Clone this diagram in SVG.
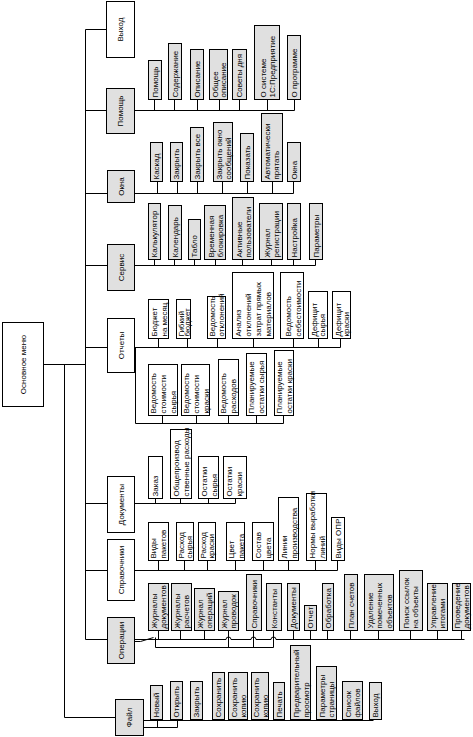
<svg xmlns="http://www.w3.org/2000/svg" width="473" height="737" viewBox="0 0 473 737">
<style>
.b{stroke:#000;stroke-width:1;fill:#fff}
.g{fill:#e0e0e0}
.t{font-family:"Liberation Sans",Arial,sans-serif;font-size:8px;fill:#000;dominant-baseline:central}
.m{text-anchor:middle}
.c{fill:none;stroke:#000;stroke-width:1}
</style>
<rect width="473" height="737" fill="#fff"/>
<g transform="translate(0.5,0.5)">
<g id="connectors" class="c">
<path d="M43,364H85M64,364V717H115M85,29V639M85,29H106M85,110H106M85,193H107M85,265H107M85,347H107M85,503H107M85,570H107M85,639H107"/>
<path d="M134,110H294M154,99V110M174,99V110M197,99V110M219,99V110M239,99V110M267,99V110M294,99V110"/>
<path d="M134,193H293M157,181V193M177,181V193M197,181V193M222,181V193M247,181V193M272,181V193M293,181V193"/>
<path d="M134,265H315M154,259V265M174,259V265M194,259V265M215,259V265M242,259V265M271,259V265M293,259V265M315,259V265"/>
<path d="M134,347H340M158,338V347M187,338V347M217,338V347M253,338V347M293,338V347M318,338V347M340,338V347"/>
<path d="M135,347V423H283M162,415V423M196,415V423M228,415V423M256,415V423M283,415V423"/>
<path d="M134,503H235M155,498V503M180,498V503M208,498V503M235,498V503"/>
<path d="M134,570H337M158,560V570M184,560V570M207,560V570M235,560V570M263,560V570M288,560V570M315,560V570M337,560V570"/>
<path d="M134,639H225.5A2.5,2.5 0 0 1 230.5,639H250.5A2.5,2.5 0 0 1 255.5,639H270.5A2.5,2.5 0 0 1 275.5,639H464"/>
<path d="M158,630V639M180,630V639M204,630V639M293,630V639M310,630V639M327,630V639M350,630V639M378,630V639M410,630V639M437,630V639M461,630V639"/>
<path d="M228,630V647M253,630V647M273,630V647M155,637V647H273M134,641H140L153,637"/>
<path d="M143,720H373M143,727H177M157,720V727M177,720V727"/>
</g>

<g id="root"><rect class="b" x="2" y="322" width="41" height="84"/><text class="t m" transform="translate(22.5,364) rotate(-90)">Основное меню</text></g>

<g id="vyhod"><rect class="b" x="106" y="1" width="28" height="56"/><text class="t m" transform="translate(120,29) rotate(-90)">Выход</text></g>
<g id="pomosh"><rect class="b g" x="106" y="88" width="28" height="45"/><text class="t m" transform="translate(120,110.5) rotate(-90)">Помощь</text></g>
<g id="okna"><rect class="b g" x="107" y="170" width="27" height="32"/><text class="t m" transform="translate(120.5,186) rotate(-90)">Окна</text></g>
<g id="servis"><rect class="b g" x="107" y="244" width="27" height="46"/><text class="t m" transform="translate(120.5,267) rotate(-90)">Сервис</text></g>
<g id="otchety"><rect class="b" x="107" y="318" width="27" height="54"/><text class="t m" transform="translate(120.5,345) rotate(-90)">Отчеты</text></g>
<g id="dokumenty"><rect class="b" x="107" y="476" width="27" height="56"/><text class="t m" transform="translate(120.5,504) rotate(-90)">Документы</text></g>
<g id="spravochniki"><rect class="b" x="107" y="539" width="27" height="61"/><text class="t m" transform="translate(120.5,569.5) rotate(-90)">Справочники</text></g>
<g id="operacii"><rect class="b g" x="107" y="617" width="27" height="46"/><text class="t m" transform="translate(120.5,640) rotate(-90)">Операции</text></g>
<g id="fail"><rect class="b g" x="115" y="699" width="28" height="36"/><text class="t m" transform="translate(129,717) rotate(-90)">Файл</text></g>

<!-- Помощь children -->
<g id="p1"><rect class="b g" x="148" y="60" width="13" height="39"/><text class="t" transform="translate(154.5,97) rotate(-90)">Помощь</text></g>
<g id="p2"><rect class="b g" x="168" y="43" width="13" height="56"/><text class="t" transform="translate(174.5,97) rotate(-90)">Содержание</text></g>
<g id="p3"><rect class="b g" x="190" y="49" width="13" height="50"/><text class="t" transform="translate(196.5,97) rotate(-90)">Описание</text></g>
<g id="p4"><rect class="b g" x="209" y="49" width="18" height="50"/><text class="t" transform="translate(214,97) rotate(-90)"><tspan x="0">Общее</tspan><tspan x="0" dy="8">описание</tspan></text></g>
<g id="p5"><rect class="b g" x="232" y="49" width="14" height="50"/><text class="t" transform="translate(239,97) rotate(-90)">Советы дня</text></g>
<g id="p6"><rect class="b g" x="254" y="25" width="25" height="74"/><text class="t" transform="translate(262,97) rotate(-90)"><tspan x="0">О системе</tspan><tspan x="0" dy="9">1С:Предприятие</tspan></text></g>
<g id="p7"><rect class="b g" x="287" y="35" width="13" height="64"/><text class="t" transform="translate(293.5,97) rotate(-90)">О программе</text></g>

<!-- Окна children -->
<g id="o1"><rect class="b g" x="150" y="142" width="12" height="39"/><text class="t" transform="translate(156,179) rotate(-90)">Каскад</text></g>
<g id="o2"><rect class="b g" x="170" y="142" width="12" height="39"/><text class="t" transform="translate(176,179) rotate(-90)">Закрыть</text></g>
<g id="o3"><rect class="b g" x="190" y="127" width="13" height="54"/><text class="t" transform="translate(196.5,179) rotate(-90)">Закрыть все</text></g>
<g id="o4"><rect class="b g" x="213" y="122" width="19" height="59"/><text class="t" transform="translate(218,179) rotate(-90)"><tspan x="0">Закрыть окно</tspan><tspan x="0" dy="9">сообщений</tspan></text></g>
<g id="o5"><rect class="b g" x="240" y="133" width="13" height="48"/><text class="t" transform="translate(246.5,179) rotate(-90)">Показать</text></g>
<g id="o6"><rect class="b g" x="261" y="113" width="21" height="68"/><text class="t" transform="translate(266,179) rotate(-90)"><tspan x="0">Автоматически</tspan><tspan x="0" dy="9">прятать</tspan></text></g>
<g id="o7"><rect class="b g" x="287" y="142" width="13" height="39"/><text class="t" transform="translate(293.5,179) rotate(-90)">Окна</text></g>

<!-- Сервис children -->
<g id="s1"><rect class="b g" x="148" y="203" width="12" height="56"/><text class="t" transform="translate(154,257) rotate(-90)">Калькулятор</text></g>
<g id="s2"><rect class="b g" x="168" y="205" width="13" height="54"/><text class="t" transform="translate(174.5,257) rotate(-90)">Календарь</text></g>
<g id="s3"><rect class="b g" x="188" y="219" width="12" height="40"/><text class="t" transform="translate(194,257) rotate(-90)">Табло</text></g>
<g id="s4"><rect class="b g" x="204" y="205" width="21" height="54"/><text class="t" transform="translate(210,257) rotate(-90)"><tspan x="0">Временная</tspan><tspan x="0" dy="9">блокировка</tspan></text></g>
<g id="s5"><rect class="b g" x="232" y="197" width="21" height="62"/><text class="t" transform="translate(238,257) rotate(-90)"><tspan x="0">Активные</tspan><tspan x="0" dy="9">пользователи</tspan></text></g>
<g id="s6"><rect class="b g" x="259" y="203" width="23" height="56"/><text class="t" transform="translate(266,257) rotate(-90)"><tspan x="0">Журнал</tspan><tspan x="0" dy="9">регистрации</tspan></text></g>
<g id="s7"><rect class="b g" x="287" y="203" width="13" height="56"/><text class="t" transform="translate(293.5,257) rotate(-90)">Настройка</text></g>
<g id="s8"><rect class="b g" x="309" y="203" width="13" height="56"/><text class="t" transform="translate(315.5,257) rotate(-90)">Параметры</text></g>

<!-- Отчеты children -->
<g id="r1"><rect class="b" x="148" y="299" width="20" height="39"/><text class="t" transform="translate(153,336) rotate(-90)"><tspan x="0">Бюджет</tspan><tspan x="0" dy="10">на месяц</tspan></text></g>
<g id="r2"><rect class="b" x="176" y="299" width="14" height="39"/><text class="t" transform="translate(180,336) rotate(-90)"><tspan x="0">Гибкий</tspan><tspan x="0" dy="6.5">бюджет</tspan></text></g>
<g id="r3"><rect class="b" x="207" y="296" width="18" height="42"/><text class="t" transform="translate(211.5,336) rotate(-90)"><tspan x="0">Ведомость</tspan><tspan x="0" dy="8.5">отклонений</tspan></text></g>
<g id="r4"><rect class="b" x="232" y="272" width="41" height="66"/><text class="t" transform="translate(237,336) rotate(-90)"><tspan x="0">Анализ</tspan><tspan x="0" dy="10">отклонений</tspan><tspan x="0" dy="10">затрат прямых</tspan><tspan x="0" dy="10">материалов</tspan></text></g>
<g id="r5"><rect class="b" x="280" y="272" width="23" height="66"/><text class="t" transform="translate(287,336) rotate(-90)"><tspan x="0">Ведомость</tspan><tspan x="0" dy="10">себестоимости</tspan></text></g>
<g id="r6"><rect class="b" x="308" y="291" width="19" height="47"/><text class="t" transform="translate(313,336) rotate(-90)"><tspan x="0">Дефицит</tspan><tspan x="0" dy="8.5">сырья</tspan></text></g>
<g id="r7"><rect class="b" x="332" y="291" width="18" height="47"/><text class="t" transform="translate(337,336) rotate(-90)"><tspan x="0">Дефицит</tspan><tspan x="0" dy="8.5">краски</tspan></text></g>
<g id="r8"><rect class="b" x="148" y="364" width="29" height="51"/><text class="t" transform="translate(152.5,413) rotate(-90)"><tspan x="0">Ведомость</tspan><tspan x="0" dy="10">стоимости</tspan><tspan x="0" dy="10">сырья</tspan></text></g>
<g id="r9"><rect class="b" x="181" y="364" width="28" height="51"/><text class="t" transform="translate(185.5,413) rotate(-90)"><tspan x="0">Ведомость</tspan><tspan x="0" dy="10">стоимости</tspan><tspan x="0" dy="10">краски</tspan></text></g>
<g id="r10"><rect class="b" x="218" y="359" width="20" height="56"/><text class="t" transform="translate(222.5,413) rotate(-90)"><tspan x="0">Ведомость</tspan><tspan x="0" dy="10">расходов</tspan></text></g>
<g id="r11"><rect class="b" x="246" y="353" width="20" height="62"/><text class="t" transform="translate(250.5,413) rotate(-90)"><tspan x="0">Планируемые</tspan><tspan x="0" dy="10">остатки сырья</tspan></text></g>
<g id="r12"><rect class="b" x="274" y="350" width="19" height="65"/><text class="t" transform="translate(278.5,413) rotate(-90)"><tspan x="0">Планируемые</tspan><tspan x="0" dy="10">остатки краски</tspan></text></g>

<!-- Документы children -->
<g id="d1"><rect class="b" x="148" y="456" width="14" height="42"/><text class="t" transform="translate(155,496) rotate(-90)">Заказ</text></g>
<g id="d2"><rect class="b" x="170" y="429" width="21" height="69"/><text class="t" transform="translate(175,496) rotate(-90)"><tspan x="0">Общепроизвод</tspan><tspan x="0" dy="10">ственные расходы</tspan></text></g>
<g id="d3"><rect class="b" x="198" y="456" width="20" height="42"/><text class="t" transform="translate(203,496) rotate(-90)"><tspan x="0">Остатки</tspan><tspan x="0" dy="10">сырья</tspan></text></g>
<g id="d4"><rect class="b" x="223" y="456" width="23" height="42"/><text class="t" transform="translate(228.5,496) rotate(-90)"><tspan x="0">Остатки</tspan><tspan x="0" dy="10">краски</tspan></text></g>

<!-- Справочники children -->
<g id="c1"><rect class="b" x="148" y="522" width="20" height="38"/><text class="t" transform="translate(152.5,558) rotate(-90)"><tspan x="0">Виды</tspan><tspan x="0" dy="10">пакетов</tspan></text></g>
<g id="c2"><rect class="b" x="176" y="522" width="17" height="38"/><text class="t" transform="translate(180,558) rotate(-90)"><tspan x="0">Расход</tspan><tspan x="0" dy="8.5">сырья</tspan></text></g>
<g id="c3"><rect class="b" x="198" y="522" width="17" height="38"/><text class="t" transform="translate(202,558) rotate(-90)"><tspan x="0">Расход</tspan><tspan x="0" dy="8.5">краски</tspan></text></g>
<g id="c4"><rect class="b" x="226" y="522" width="18" height="38"/><text class="t" transform="translate(230.5,558) rotate(-90)"><tspan x="0">Цвет</tspan><tspan x="0" dy="10">пакета</tspan></text></g>
<g id="c5"><rect class="b" x="252" y="522" width="21" height="38"/><text class="t" transform="translate(257.5,558) rotate(-90)"><tspan x="0">Состав</tspan><tspan x="0" dy="10">цвета</tspan></text></g>
<g id="c6"><rect class="b" x="278" y="497" width="20" height="63"/><text class="t" transform="translate(283,558) rotate(-90)"><tspan x="0">Линии</tspan><tspan x="0" dy="10">производства</tspan></text></g>
<g id="c7"><rect class="b" x="306" y="493" width="20" height="67"/><text class="t" transform="translate(311,558) rotate(-90)"><tspan x="0">Нормы выработки</tspan><tspan x="0" dy="10">линий</tspan></text></g>
<g id="c8"><rect class="b" x="331" y="517" width="13" height="43"/><text class="t" transform="translate(337.5,558) rotate(-90)">Виды ОПР</text></g>

<!-- Операции children -->
<g id="op1"><rect class="b g" x="148" y="583" width="20" height="47"/><text class="t" transform="translate(153,628) rotate(-90)"><tspan x="0">Журналы</tspan><tspan x="0" dy="9.5">документов</tspan></text></g>
<g id="op2"><rect class="b g" x="171" y="583" width="20" height="47"/><text class="t" transform="translate(176,628) rotate(-90)"><tspan x="0">Журналы</tspan><tspan x="0" dy="9.5">расчетов</tspan></text></g>
<g id="op3"><rect class="b g" x="194" y="588" width="20" height="42"/><text class="t" transform="translate(199,628) rotate(-90)"><tspan x="0">Журнал</tspan><tspan x="0" dy="9.5">операций</tspan></text></g>
<g id="op4"><rect class="b g" x="218" y="591" width="20" height="39"/><text class="t" transform="translate(223,628) rotate(-90)"><tspan x="0">Журнал</tspan><tspan x="0" dy="9.5">проводок</tspan></text></g>
<g id="op5"><rect class="b g" x="246" y="574" width="15" height="56"/><text class="t" transform="translate(253.5,628) rotate(-90)">Справочники</text></g>
<g id="op6"><rect class="b g" x="266" y="583" width="15" height="47"/><text class="t" transform="translate(273.5,628) rotate(-90)">Константы</text></g>
<g id="op7"><rect class="b g" x="287" y="583" width="12" height="47"/><text class="t" transform="translate(293,628) rotate(-90)">Документы</text></g>
<g id="op8"><rect class="b g" x="304" y="605" width="12" height="25"/><text class="t" transform="translate(310,628) rotate(-90)">Отчет</text></g>
<g id="op9"><rect class="b g" x="322" y="583" width="11" height="47"/><text class="t" transform="translate(327.5,628) rotate(-90)">Обработка</text></g>
<g id="op10"><rect class="b g" x="344" y="574" width="13" height="56"/><text class="t" transform="translate(350.5,628) rotate(-90)">План счетов</text></g>
<g id="op11"><rect class="b g" x="364" y="574" width="29" height="56"/><text class="t" transform="translate(369,628) rotate(-90)"><tspan x="0">Удаление</tspan><tspan x="0" dy="9.5">помеченных</tspan><tspan x="0" dy="9.5">объектов</tspan></text></g>
<g id="op12"><rect class="b g" x="399" y="570" width="23" height="60"/><text class="t" transform="translate(405,628) rotate(-90)"><tspan x="0">Поиск ссылок</tspan><tspan x="0" dy="9.5">на объекты</tspan></text></g>
<g id="op13"><rect class="b g" x="427" y="583" width="20" height="47"/><text class="t" transform="translate(432,628) rotate(-90)"><tspan x="0">Управление</tspan><tspan x="0" dy="9.5">итогами</tspan></text></g>
<g id="op14"><rect class="b g" x="452" y="583" width="18" height="47"/><text class="t" transform="translate(456.5,628) rotate(-90)"><tspan x="0">Проведение</tspan><tspan x="0" dy="9">документов</tspan></text></g>

<!-- Файл children -->
<g id="f1"><rect class="b g" x="150" y="685" width="12" height="34"/><text class="t" transform="translate(156,717) rotate(-90)">Новый</text></g>
<g id="f2"><rect class="b g" x="170" y="681" width="12" height="38"/><text class="t" transform="translate(176,717) rotate(-90)">Открыть</text></g>
<g id="f3"><rect class="b g" x="190" y="681" width="12" height="38"/><text class="t" transform="translate(196,717) rotate(-90)">Закрыть</text></g>
<g id="f4"><rect class="b g" x="212" y="672" width="12" height="47"/><text class="t" transform="translate(218,717) rotate(-90)">Сохранить</text></g>
<g id="f5"><rect class="b g" x="228" y="672" width="19" height="47"/><text class="t" transform="translate(233,717) rotate(-90)"><tspan x="0">Сохранить</tspan><tspan x="0" dy="9">копию</tspan></text></g>
<g id="f6"><rect class="b g" x="251" y="672" width="17" height="47"/><text class="t" transform="translate(255.5,717) rotate(-90)"><tspan x="0">Сохранить</tspan><tspan x="0" dy="8.5">копию</tspan></text></g>
<g id="f7"><rect class="b g" x="273" y="682" width="11" height="37"/><text class="t" transform="translate(278.5,717) rotate(-90)">Печать</text></g>
<g id="f8"><rect class="b g" x="290" y="645" width="20" height="74"/><text class="t" transform="translate(295,717) rotate(-90)"><tspan x="0">Предварительный</tspan><tspan x="0" dy="10">просмотр</tspan></text></g>
<g id="f9"><rect class="b g" x="316" y="666" width="20" height="53"/><text class="t" transform="translate(321,717) rotate(-90)"><tspan x="0">Параметры</tspan><tspan x="0" dy="9.5">страницы</tspan></text></g>
<g id="f10"><rect class="b g" x="342" y="681" width="20" height="38"/><text class="t" transform="translate(347,717) rotate(-90)"><tspan x="0">Список</tspan><tspan x="0" dy="9.5">файлов</tspan></text></g>
<g id="f11"><rect class="b g" x="369" y="682" width="12" height="37"/><text class="t" transform="translate(375,717) rotate(-90)">Выход</text></g>
</g>
</svg>
